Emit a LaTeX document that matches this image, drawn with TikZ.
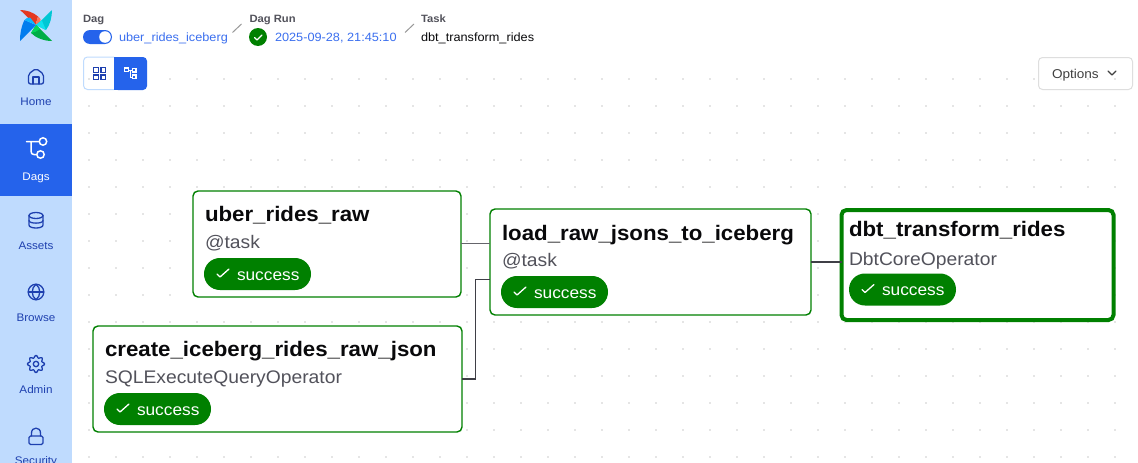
\documentclass[tikz,border=0pt]{standalone}
\usepackage{fontspec}
\setmainfont[FakeStretch=1.06]{Liberation Sans}
\definecolor{side}{HTML}{BFDBFE}
\definecolor{navy}{HTML}{1E40AF}
\definecolor{act}{HTML}{2563EB}
\definecolor{linkc}{HTML}{3B6FEF}
\definecolor{okg}{HTML}{008000}
\definecolor{ttl}{HTML}{09090B}
\definecolor{subc}{HTML}{52525B}
\definecolor{edge}{HTML}{3F3F46}
\definecolor{dotc}{HTML}{CCCCCC}
\definecolor{lred}{HTML}{E43921}
\definecolor{lsalmon}{HTML}{FF7557}
\definecolor{lcyan}{HTML}{00C7D4}
\definecolor{lcyanb}{HTML}{11E1EE}
\definecolor{lgreen}{HTML}{00AD46}
\definecolor{lgreenb}{HTML}{04D659}
\definecolor{lblue}{HTML}{017CEE}
\definecolor{lblueb}{HTML}{0CB6FF}
\tikzset{
 txt/.style={inner sep=0,outer sep=0,anchor=base west},
 navlbl/.style={inner sep=0,anchor=base,text=navy,font=\fontsize{11}{14}\selectfont},
 icon/.style={draw=navy,line width=1.3,line cap=round,line join=round},
 taskbox/.style={draw=okg,fill=white,line width=1.4,rounded corners=5,inner sep=0,outer sep=0},
 title/.style={txt,text=ttl,font=\fontsize{21}{26}\selectfont\bfseries},
 subt/.style={txt,text=subc,font=\fontsize{18.2}{22}\selectfont},
 pill/.style={fill=okg,rounded corners=15.9,inner sep=0,minimum width=107,minimum height=32},
 pilltxt/.style={txt,text=white,font=\fontsize{16.3}{18}\selectfont},
 check/.style={draw=white,line width=1.3,line cap=round,line join=round},
 hdr/.style={txt,text=subc,font=\fontsize{10.6}{14}\selectfont\bfseries},
 crumb/.style={txt,font=\fontsize{12}{16}\selectfont},
 slashm/.style={draw=black!40,line width=1},
 conn/.style={draw=edge,line width=1.5},
}
\newcommand{\statuspill}[3]{% name, left, top
 \node[pill] (#1) at (#2+53.5,#3+16) {};
 \draw[check] (#2+13,#3+16) -- (#2+16,#3+19) -- (#2+25,#3+11);
 \node[pilltxt] (#1txt) at (#2+33,#3+22) {success};
}
\begin{document}
\begin{tikzpicture}[x=1pt,y=-1pt]
\useasboundingbox (0,0) rectangle (1138,463);
\fill[white] (0,0) rectangle (1138,463);
% grid of dots
\foreach \i in {0,...,38} \foreach \j in {0,...,14}
  \fill[dotc] (89+27*\i,79+27*\j) circle (.85);
% sidebar
\fill[side] (0,0) rectangle (72,463);
\fill[act] (0,124) rectangle (72,196);
% logo
\fill[lred] (20,10) .. controls (27,16) and (31,21) .. (35.5,25) -- (38,16.5) .. controls (33,12) and (26,10) .. cycle;
\fill[lsalmon] (38,16.5) -- (35.5,25) -- (40,22.5) .. controls (41.5,21) and (41,18.5) .. cycle;
\fill[lcyan] (52,10) .. controls (46,16) and (41,21) .. (36,25) -- (46,30) .. controls (50,25) and (52,17) .. cycle;
\fill[lcyanb] (36,25) -- (46,30) .. controls (44,25) and (42,22) .. (42,20) -- cycle;
\fill[lgreen] (52,41) .. controls (46,35) and (41,30) .. (36,25) -- (31,33) .. controls (36,38) and (44,41) .. cycle;
\fill[lgreenb] (36,25) -- (31,33) .. controls (34,33) and (37,31) .. (40,29) -- cycle;
\fill[lblue] (20,41) .. controls (26,35) and (31,30) .. (36,25) -- (24.5,20) .. controls (21,27) and (20,34) .. cycle;
\fill[lblueb] (24.5,20) -- (36,25) -- (30,17.5) .. controls (28,17.5) and (26,18) .. cycle;
% Home
\draw[icon,rounded corners=2] (28.5,84) -- (28.5,74) -- (36,68.5) -- (43.5,74) -- (43.5,84) -- cycle;
\draw[icon] (33,84) -- (33,77) -- (39,77) -- (39,84);
\node[navlbl] (lhome) at (36,105) {Home};
% Dags
\draw[white,line width=1.5,line cap=round,line join=round] (26.5,141.5) -- (39,141.5) (31,141.5) -- (31,151) .. controls (31,153.5) and (32,154.5) .. (34,154.5) -- (36.5,154.5);
\draw[white,line width=1.5] (43,141.5) circle (3.7) (40.5,154.5) circle (3.7);
\node[navlbl,text=white] (ldags) at (36,180) {Dags};
% Assets
\draw[icon] (36,215.5) ellipse (7 and 3);
\draw[icon] (29,215.5) -- (29,225) .. controls (29,229) and (43,229) .. (43,225) -- (43,215.5);
\draw[icon] (29,220.5) .. controls (29,224) and (43,224) .. (43,220.5);
\node[navlbl] (lassets) at (36,249) {Assets};
% Browse
\draw[icon] (36,292) circle (7.8);
\draw[icon] (28.2,292) -- (43.8,292);
\draw[icon] (36,284.2) .. controls (31,288) and (31,296) .. (36,299.8) .. controls (41,296) and (41,288) .. cycle;
\node[navlbl] (lbrowse) at (36,321) {Browse};
% Admin
\draw[icon] plot[domain=0:357,samples=120,smooth] ({36+(7.4+1.1*cos(8*\x))*cos(\x)},{364+(7.4+1.1*cos(8*\x))*sin(\x)}) -- cycle;
\draw[icon] (36,364) circle (2.7);
\node[navlbl] (ladmin) at (36,393) {Admin};
% Security
\draw[icon,rounded corners=1.5] (29,436) rectangle (43,444.5);
\draw[icon] (31.5,436) -- (31.5,433) .. controls (31.5,426.5) and (40.5,426.5) .. (40.5,433) -- (40.5,436);
\node[navlbl] (lsec) at (36,464) {Security};
% header
\node[hdr] (h1) at (83,23) {Dag};
\fill[act,rounded corners=7] (83,30) rectangle (112,44);
\fill[white] (105,37) circle (5.8);
\node[crumb,text=linkc] (c1) at (119,41) {uber\_rides\_iceberg};
\draw[slashm] (232.5,32.5) -- (241.5,24);
\node[hdr] (h2) at (249.5,23) {Dag Run};
\fill[okg] (258,37) circle (9);
\draw[check,line width=1.1] (254.5,37.5) -- (257,40) -- (262,35);
\node[crumb,text=linkc] (c2) at (275,41) {2025-09-28, 21:45:10};
\draw[slashm] (405,32.5) -- (414,24);
\node[hdr] (h3) at (421,23) {Task};
\node[crumb,text=ttl] (c3) at (421,41) {dbt\_transform\_rides};
% view buttons
\draw[side,line width=1,rounded corners=4] (114,57) -- (83.5,57) -- (83.5,89.5) -- (114,89.5);
\fill[act,rounded corners=4] (114,57) -- (147,57) -- (147,90) -- (114,90) [sharp corners] -- cycle;
\fill[act] (114,57) rectangle (120,90);
\draw[navy,line width=1.2] (93.5,67.5) rectangle (98.5,72.5) (101,67.5) rectangle (105.5,72.5) (93.5,75) rectangle (98.5,79.5) (101,75) rectangle (105.5,79.5);
\draw[white,line width=1.2] (124.5,68) rectangle (128.5,71.5) (132.5,68.5) rectangle (136,72) (132.5,75) rectangle (136,78.5);
\draw[white,line width=.9] (128.5,70) -- (132.5,70) (130.5,70) -- (130.5,77) -- (132.5,77);
% options
\draw[black!13,line width=1,rounded corners=4] (1038.5,57.5) rectangle (1132.5,89.5);
\node[crumb,text=black!75,font=\fontsize{12.8}{16}\selectfont] (opt) at (1052,78) {Options};
\draw[black!75,line width=1.1,line cap=round,line join=round] (1108,71) -- (1112,75) -- (1116,71);
% task boxes
\node[taskbox,minimum width=268,minimum height=106] (uber) at (327,244) {};
\node[taskbox,minimum width=369,minimum height=106] (create) at (277.5,379) {};
\node[taskbox,minimum width=321,minimum height=106] (load) at (650.5,262) {};
\node[taskbox,line width=4,minimum width=272,minimum height=110] (dbt) at (977.5,265) {};
% connectors
\coordinate (loadin) at (490,279.5);
\coordinate (uberout) at (461,243.5);
\draw[conn,draw=edge!80,line width=1] (uberout) -- (load.west |- uberout);
\draw[conn] (create.east) -- (475.5,379) -- (475.5,279.5) -- (loadin);
\draw[conn,line width=2.4] (load.east) -- (dbt.west |- load.east);
% contents
\node[title] (t1) at (205,221) {uber\_rides\_raw};
\node[subt] (s1) at (205,248.5) {@task};
\statuspill{p1}{204}{258}
\node[title] (t2) at (105,356) {create\_iceberg\_rides\_raw\_json};
\node[subt] (s2) at (105,383) {SQLExecuteQueryOperator};
\statuspill{p2}{104}{393}
\node[title] (t3) at (502,240) {load\_raw\_jsons\_to\_iceberg};
\node[subt] (s3) at (502,266) {@task};
\statuspill{p3}{501}{276}
\node[title] (t4) at (849,236) {dbt\_transform\_rides};
\node[subt] (s4) at (849,265) {DbtCoreOperator};
\statuspill{p4}{849}{273.5}
\end{tikzpicture}
\end{document}
